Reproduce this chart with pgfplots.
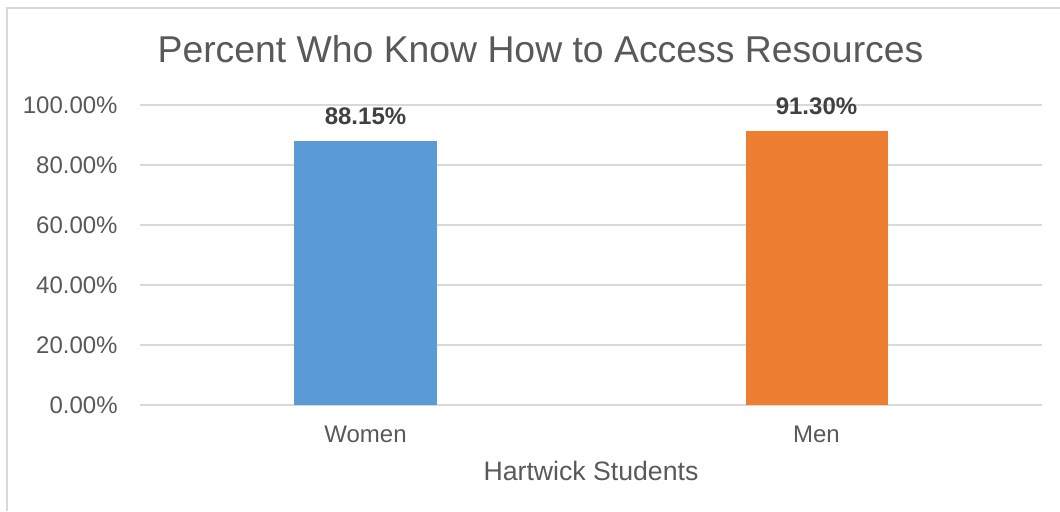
\documentclass[border=0pt]{standalone}
\usepackage{fontspec}
\setmainfont{Liberation Sans}
\usepackage{pgfplots}
\pgfplotsset{compat=1.18}
\definecolor{gridgray}{HTML}{D9D9D9}
\definecolor{txtgray}{HTML}{595959}
\definecolor{lblgray}{HTML}{404040}
\definecolor{barblue}{HTML}{5B9BD5}
\definecolor{barorange}{HTML}{ED7D31}
\begin{document}
\begin{tikzpicture}
\useasboundingbox (0,0) rectangle (530pt,255.5pt);
\fill[white] (0,0) rectangle (530pt,255.5pt);
\draw[gridgray, line width=1pt] (3.5pt,0) -- (3.5pt,251.5pt) -- (530pt,251.5pt);
\begin{axis}[
  at={(70pt,53pt)}, anchor=south west,
  scale only axis, width=451pt, height=150pt,
  xmin=-0.5, xmax=1.5, ymin=0, ymax=100,
  /pgf/number format/assume math mode=true,
  ybar, bar width=71pt, bar shift=0pt,
  axis x line*=bottom, axis y line*=left,
  x axis line style={gridgray, line width=1pt, -},
  y axis line style={draw=none},
  xtick={0,1}, xticklabels={Women,Men},
  ytick={0,20,40,60,80,100},
  ymajorgrids, grid style={gridgray, line width=1pt},
  major tick length=0pt,
  yticklabel={\pgfmathprintnumber[fixed,fixed zerofill,precision=2]{\tick}\%},
  yticklabel style={font=\fontsize{12}{14}\selectfont, text=txtgray, anchor=east, inner sep=0pt, xshift=-11pt},
  xticklabel style={font=\fontsize{12}{14}\selectfont, text=txtgray, anchor=base, inner sep=0pt, yshift=-18.5pt},
  xlabel={Hartwick Students},
  xlabel style={font=\fontsize{13.33}{16}\selectfont, text=txtgray, at={(axis description cs:0.5,0)}, anchor=base, inner sep=0pt, yshift=-37.5pt},
  title={Percent Who Know How to Access Resources},
  title style={font=\fontsize{18.67}{22}\selectfont, text=txtgray, at={(axis description cs:0.444,1)}, anchor=base, inner sep=0pt, yshift=15.5pt},
  nodes near coords={\pgfmathprintnumber[fixed,fixed zerofill,precision=2]{\pgfplotspointmeta}\%},
  nodes near coords style={font=\bfseries\fontsize{12}{14}\selectfont, text=lblgray, anchor=base, inner sep=0pt, yshift=8.25pt},
  clip=false,
]
\addplot[fill=barblue, draw=none] coordinates {(0,88.15)};
\addplot[fill=barorange, draw=none] coordinates {(1,91.30)};
\end{axis}
\end{tikzpicture}
\end{document}
